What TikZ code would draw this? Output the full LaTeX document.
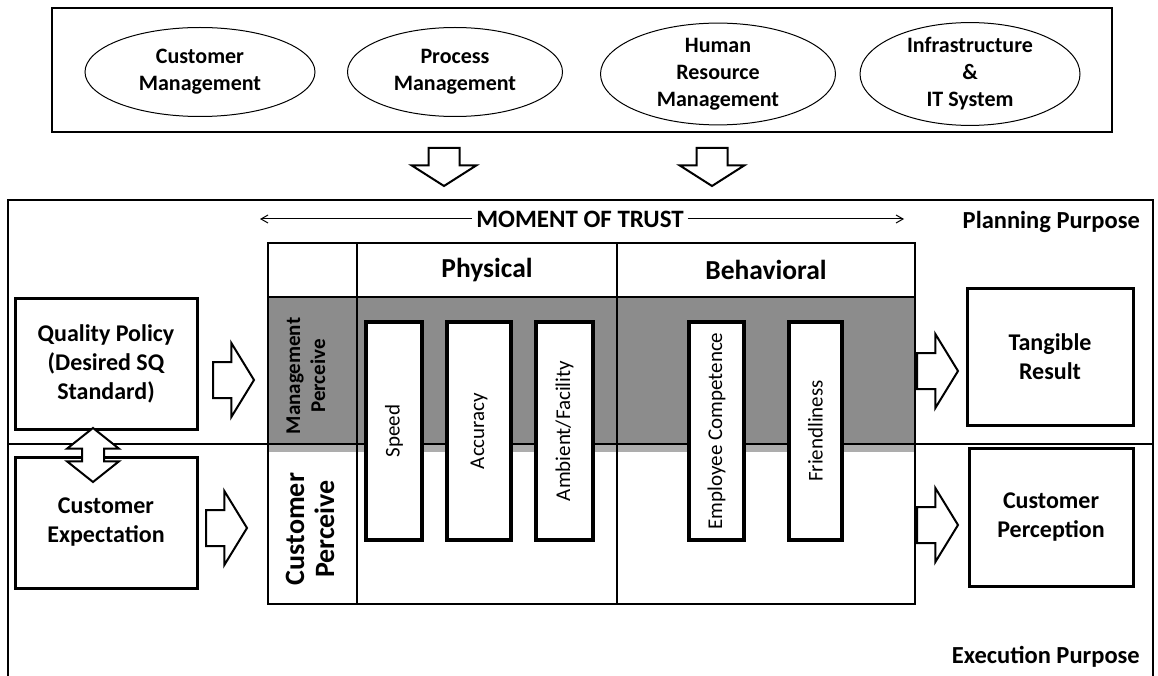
\documentclass[tikz,border=0pt]{standalone}
\usepackage{fontspec}
\setmainfont{Carlito}
\usetikzlibrary{shapes.geometric,shapes.arrows,arrows.meta}
\tikzset{
  area/.style={draw, ellipse, line width=1pt, inner sep=0pt, align=center,
    font=\fontsize{22}{27}\selectfont\bfseries},
  unitbox/.style={draw, line width=3pt, fill=white, inner sep=0pt, align=center,
    font=\fontsize{24}{29}\selectfont\bfseries},
  pillar/.style={draw, line width=3.5pt, fill=white, rotate=90, inner sep=0pt,
    minimum width=218pt, font=\fontsize{21}{25}\selectfont},
  fat/.style={single arrow, draw, line width=2pt, fill=white, inner xsep=0pt,
    inner ysep=17pt, minimum height=41pt, single arrow head extend=19pt,
    single arrow tip angle=117, anchor=tail},
  drop/.style={fat, rotate=-90, inner ysep=14.5pt, minimum height=38pt,
    single arrow head extend=17pt, single arrow tip angle=115},
  purpose/.style={anchor=east, inner sep=0pt, font=\fontsize{24.5}{29}\selectfont\bfseries},
  header/.style={inner sep=0pt, font=\fontsize{27.5}{32}\selectfont\bfseries}
}
\begin{document}
\begin{tikzpicture}[x=1pt,y=-1pt]
  \useasboundingbox (0,0) rectangle (1158,676);
  \draw[line width=2pt] (52,8) rectangle (1112,132);
  \node[area, minimum width=230pt, minimum height=89pt] (cm) at (200,72) {Customer\\Management};
  \node[area, minimum width=215pt, minimum height=89pt] (pm) at (455,72) {Process\\Management};
  \node[area, minimum width=235pt, minimum height=94pt] (hrm) at (718,74) {Human\\Resource\\Management};
  \node[area, minimum width=220pt, minimum height=94pt] (it) at (970,74) {Infrastructure\\\&\\IT System};
  \node[drop] (d1) at (444,147) {};
  \node[drop] (d2) at (712,147) {};

  \draw[line width=1.2pt] (8,676) -- (8,200) -- (1153,200) -- (1153,676);
  \node[inner sep=4pt, font=\fontsize{25}{30}\selectfont\bfseries] (trust) at (580,219) {MOMENT OF TRUST};
  \coordinate (trustl) at (260,219);
  \coordinate (trustr) at (904,219);
  \draw[line width=1pt, -{Straight Barb[length=7pt,width=8pt]}] (trust) -- (trustl);
  \draw[line width=1pt, -{Straight Barb[length=7pt,width=8pt]}] (trust) -- (trustr);
  \node[purpose] (plan) at (1140,222) {Planning Purpose};
  \node[purpose] (exec) at (1140,657) {Execution Purpose};

  \fill[black!45] (268,297) rectangle (915,452);
  \fill[black!32] (268,444) rectangle (915,452);
  \draw[line width=1.6pt] (8,444) -- (1153,444);
  \begin{scope}[line width=1.6pt]
    \draw (268,243) rectangle (915,604);
    \draw (357,243) -- (357,604);
    \draw (617,243) -- (617,604);
    \draw (268,297) -- (915,297);
  \end{scope}
  \node[header] (phys) at (487,270) {Physical};
  \node[header] (behav) at (766,270) {Behavioral};
  \node[rotate=90, align=center, inner sep=0pt, font=\fontsize{21}{25}\selectfont\bfseries] (mgmt) at (306,376) {Management\\Perceive};
  \node[rotate=90, align=center, inner sep=0pt, font=\fontsize{28}{30}\selectfont\bfseries] (cust) at (310,529) {Customer\\Perceive};

  \node[pillar, minimum height=56pt] (speed) at (394,431) {Speed};
  \node[pillar, minimum height=64pt] (accuracy) at (479,431) {Accuracy};
  \node[pillar, minimum height=57pt] (ambient) at (564.5,431) {Ambient/Facility};
  \node[pillar, minimum height=55pt] (competence) at (716.5,431) {Employee Competence};
  \node[pillar, minimum height=53pt] (friendly) at (815.5,431) {Friendliness};

  \node[unitbox, minimum width=182pt, minimum height=131pt] (policy) at (106,363.5) {Quality Policy\\(Desired SQ\\Standard)};
  \node[unitbox, minimum width=182pt, minimum height=131pt] (expect) at (106,522.5) {Customer\\Expectation};
  \node[unitbox, minimum width=166pt, minimum height=137pt] (result) at (1050,356.5) {Tangible\\Result};
  \node[unitbox, minimum width=164pt, minimum height=138pt] (percept) at (1051,517) {Customer\\Perception};

  \node[fat] (a1) at (212,380) {};
  \node[fat] (a2) at (205,528) {};
  \node[fat] (a3) at (916,371) {};
  \node[fat] (a4) at (916,525) {};
  \node[double arrow, draw, line width=2pt, fill=white, inner xsep=0pt, inner ysep=10pt,
    rotate=90, minimum height=54pt, double arrow head extend=15pt,
    double arrow tip angle=103] (link) at (93,455) {};
\end{tikzpicture}
\end{document}
